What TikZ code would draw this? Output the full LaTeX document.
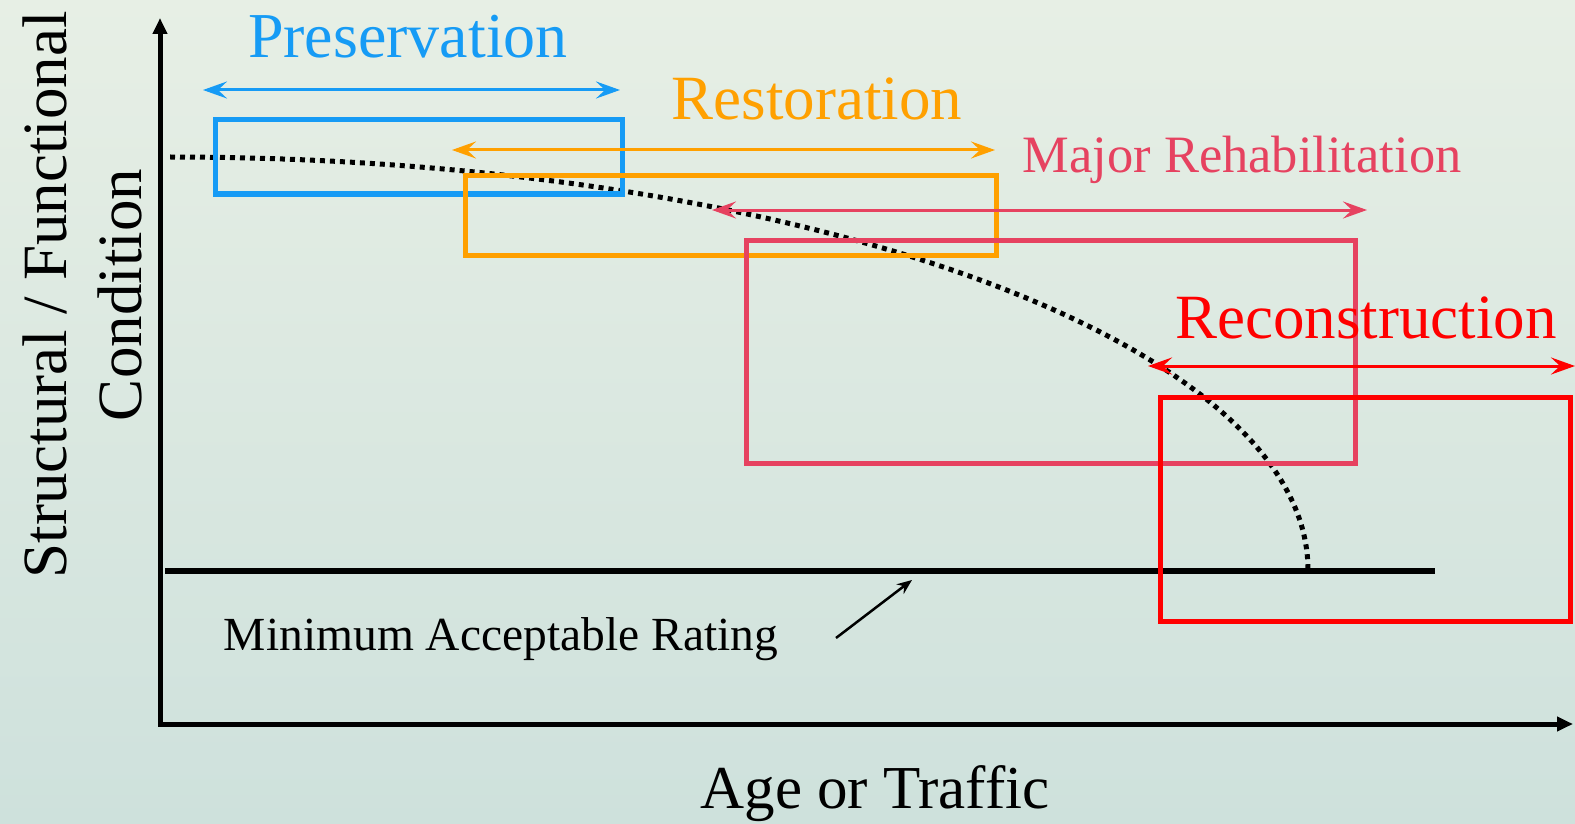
\documentclass[tikz,border=0pt]{standalone}
\usepackage{fontspec}
\setmainfont{Liberation Serif}
\usepackage{xcolor}
\usetikzlibrary{arrows.meta}
\definecolor{presblue}{RGB}{22,155,245}
\definecolor{restorange}{RGB}{255,160,0}
\definecolor{rehabred}{RGB}{230,66,96}
\definecolor{reconred}{RGB}{255,0,0}
\definecolor{bgtop}{RGB}{231,239,229}
\definecolor{bgbottom}{RGB}{206,225,220}
\tikzstyle{span} = [line width=3pt, {Stealth[length=24pt,width=17pt,inset=9pt]}-{Stealth[length=24pt,width=17pt,inset=9pt]}]
\tikzstyle{zone} = [line width=5pt]
\tikzstyle{axis} = [line width=5pt, -{Triangle[length=16pt,width=14pt]}]
\tikzstyle{label} = [inner sep=0pt, anchor=base]

\begin{document}
\begin{tikzpicture}[x=1pt, y=-1pt]
    % Background
    \useasboundingbox (0,0) rectangle (1575,824);
    \shade[top color=bgtop, bottom color=bgbottom] (0,0) rectangle (1575,824);

    % Axes
    \coordinate (origin) at (160,724);
    \coordinate (ytop) at (160,18);
    \coordinate (xstart) at (158,724);
    \coordinate (xend) at (1573,724);
    \draw[axis] (origin) -- (ytop);
    \draw[axis] (xstart) -- (xend);
    \node[rotate=90, align=center, inner sep=0pt, font=\fontsize{63}{75}\selectfont] (ylab) at (82,295) {Structural / Functional\\Condition};
    \node[label, font=\fontsize{61}{70}\selectfont] (xlab) at (875,808) {Age or Traffic};

    % Minimum rating
    \coordinate (minL) at (165,571);
    \coordinate (minR) at (1435,571);
    \draw[line width=6pt] (minL) -- (minR);
    \node[label, font=\fontsize{47.5}{55}\selectfont] (minlab) at (501,650) {Minimum Acceptable Rating};
    \coordinate (ptrfoot) at (836,638);
    \coordinate (minptr) at (912,580);
    \draw[line width=2.5pt, -{Stealth[length=15pt,width=12pt]}] (ptrfoot) -- (minptr);

    % Condition curve
    \coordinate (curveA) at (170,157);
    \draw[line width=5pt, dash pattern=on 5pt off 5pt] (curveA) arc[start angle=-90, end angle=0, x radius=1138, y radius=413] coordinate (curveB);

    % Preservation
    \node[label, text=presblue, font=\fontsize{64}{70}\selectfont] (pres) at (408,58) {Preservation};
    \coordinate (presL) at (203,90);
    \coordinate (presR) at (620,90);
    \draw[span, presblue] (presL) -- (presR);
    \draw[zone, presblue] (215,120) rectangle (622,194);

    % Restoration
    \node[label, text=restorange, font=\fontsize{63}{70}\selectfont] (rest) at (817,120) {Restoration};
    \coordinate (restL) at (452,150);
    \coordinate (restR) at (995,150);
    \draw[span, restorange] (restL) -- (restR);
    \draw[zone, restorange] (465,176) rectangle (996,255);

    % Major Rehabilitation
    \node[label, text=rehabred, font=\fontsize{52.5}{60}\selectfont] (rehab) at (1242,172) {Major Rehabilitation};
    \coordinate (rehabL) at (712,210);
    \coordinate (rehabR) at (1367,210);
    \draw[span, rehabred] (rehabL) -- (rehabR);
    \draw[zone, rehabred] (746,240) rectangle (1355,463);

    % Reconstruction
    \node[label, text=reconred, font=\fontsize{63}{70}\selectfont] (recon) at (1366,338) {Reconstruction};
    \coordinate (reconL) at (1148,366);
    \coordinate (reconR) at (1575,366);
    \draw[span, reconred] (reconL) -- (reconR);
    \draw[zone, reconred] (1160,397) rectangle (1570,621);
\end{tikzpicture}
\end{document}
